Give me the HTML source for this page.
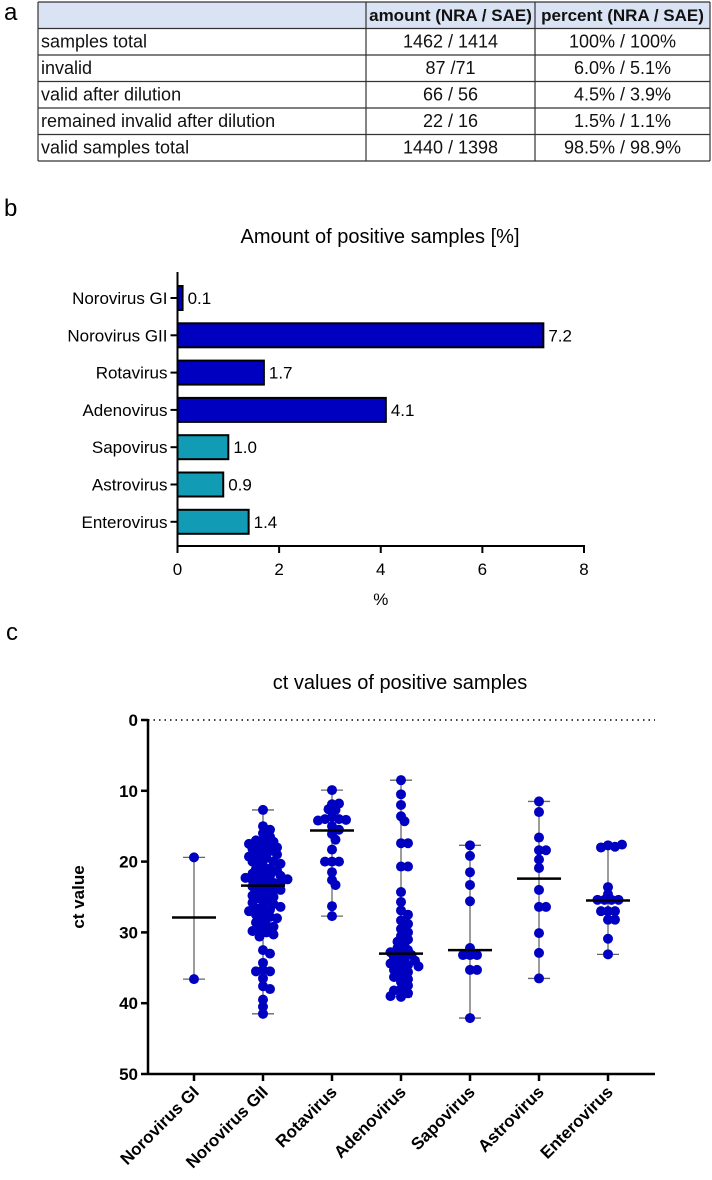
<!DOCTYPE html>
<html><head><meta charset="utf-8"><style>
body{margin:0;width:712px;height:1180px;background:#fff;overflow:hidden;font-family:"Liberation Sans",sans-serif}
svg{position:absolute;left:0;top:0}
</style></head><body>
<svg id="s" width="712" height="1180" xmlns="http://www.w3.org/2000/svg">
<text x="4" y="20" font-size="24">a</text>
<g id="tbl"></g>
<text x="4" y="216" font-size="24">b</text>
<g id="bar"></g>
<text x="6" y="640" font-size="24">c</text>
<g id="ct"></g>
</svg>
<script>
const NS='http://www.w3.org/2000/svg';
function mk(p,t,a,txt){const e=document.createElementNS(NS,t);for(const k in a)e.setAttribute(k,a[k]);if(txt!=null)e.textContent=txt;p.appendChild(e);return e;}

// ---------- TABLE ----------
const tableHeader=['','amount (NRA / SAE)','percent (NRA / SAE)'];
const tableRows=[['samples total','1462 / 1414','100% / 100%'],['invalid','87 /71','6.0% / 5.1%'],['valid after dilution','66 / 56','4.5% / 3.9%'],['remained invalid after dilution','22 / 16','1.5% / 1.1%'],['valid samples total','1440 / 1398','98.5% / 98.9%']];
(function(){
const g=document.getElementById('tbl');
const cx=[38,366,535,710],top=2,rh=26.5;
const hb=mk(g,'rect',{x:38,y:top,width:672,height:rh,fill:'#dae3f3'});

const all=[tableHeader].concat(tableRows);
all.forEach((r,i)=>{
 const y=top+i*rh;
 r.forEach((c,j)=>{
  const t=mk(g,'text',{x:j==0?cx[0]+3:(cx[j]+cx[j+1])/2,y:y+19,'font-size':i==0?17:18,'text-anchor':j==0?'start':'middle','font-weight':i==0?'bold':'normal',fill:'#111'},c);
  
 });
});
for(let i=0;i<=all.length;i++){const l=mk(g,'line',{x1:38,x2:710,y1:top+i*rh,y2:top+i*rh,stroke:'#333','stroke-width':1.2});}
cx.forEach(x=>{const l=mk(g,'line',{x1:x,x2:x,y1:top,y2:top+all.length*rh,stroke:'#333','stroke-width':1.2});});
})();

// ---------- BAR CHART ----------
const barCats=['Norovirus GI','Norovirus GII','Rotavirus','Adenovirus','Sapovirus','Astrovirus','Enterovirus'];
const barVals=[0.1,7.2,1.7,4.1,1.0,0.9,1.4];
const barLabels=['0.1','7.2','1.7','4.1','1.0','0.9','1.4'];
const barGroup=['dark','dark','dark','dark','teal','teal','teal'];
const barTicks=[0,2,4,6,8];
(function(){
const g=document.getElementById('bar');
const x0=177.5,x1=584,ytop=272,ybot=546;
const X=v=>x0+(v-0)/(8-0)*(x1-x0);
const Y=i=>298+i*37.3;
const t=mk(g,'text',{x:380,y:243,'font-size':20,'text-anchor':'middle'},'Amount of positive samples [%]');

barCats.forEach((c,i)=>{
 const r=mk(g,'rect',{x:X(0),y:Y(i)-12,width:X(barVals[i])-X(0),height:24,fill:barGroup[i]=='dark'?'#0000c0':'#119bb4',stroke:'#000','stroke-width':2});
 
 const v=mk(g,'text',{x:X(barVals[i])+5,y:Y(i)+6,'font-size':17},barLabels[i]);
 
 const l=mk(g,'text',{x:x0-10,y:Y(i)+6,'font-size':17,'text-anchor':'end'},c);
 
 const tk=mk(g,'line',{x1:x0-7,x2:x0,y1:Y(i),y2:Y(i),stroke:'#000','stroke-width':2});
 
});
const ya=mk(g,'line',{x1:x0,x2:x0,y1:ytop,y2:ybot+1,stroke:'#000','stroke-width':2});

const xa=mk(g,'line',{x1:x0-1,x2:x1+1,y1:ybot,y2:ybot,stroke:'#000','stroke-width':2});

barTicks.forEach(v=>{
 const tk=mk(g,'line',{x1:X(v),x2:X(v),y1:ybot,y2:ybot+7,stroke:'#000','stroke-width':2});
 
 const tl=mk(g,'text',{x:X(v),y:575,'font-size':17,'text-anchor':'middle'},String(v));
 
});
const xt=mk(g,'text',{x:X(4),y:605,'font-size':17,'text-anchor':'middle'},'%');

})();

// ---------- CT SCATTER ----------
const ctCats=['Norovirus GI','Norovirus GII','Rotavirus','Adenovirus','Sapovirus','Astrovirus','Enterovirus'];
const ctNoroGI=[19.4,36.6];
const ctNoroGII=[12.7,15.0,15.5,16.0,16.5,17.0,17.0,17.2,17.5,17.8,18.0,18.0,18.2,18.5,18.7,19.0,19.0,19.3,19.5,19.8,20.0,20.0,20.3,20.6,21.0,21.0,21.3,21.5,21.7,22.0,22.0,22.2,22.3,22.5,22.6,22.8,23.0,23.0,23.2,23.5,23.7,24.0,24.0,24.3,24.6,24.8,25.0,25.2,25.5,25.8,26.0,26.2,26.4,26.6,26.8,27.0,27.2,27.5,27.8,28.0,28.3,28.6,29.0,29.2,29.5,29.8,30.0,30.3,30.6,32.5,33.0,34.3,35.3,35.5,35.5,36.5,37.6,38.0,39.5,40.5,41.5];
const ctRota=[9.9,11.9,11.8,12.7,12.6,13.7,14.0,14.0,14.1,14.2,15.0,15.5,16.1,16.9,18.3,20.0,20.0,20.0,21.5,22.6,23.3,26.3,27.7];
const ctAdeno=[8.5,10.5,12.0,13.6,14.3,17.4,17.4,20.7,20.7,24.3,25.7,26.9,27.5,28.3,28.8,29.5,30.0,30.5,31.0,31.3,31.8,32.2,32.5,32.8,33.0,33.2,33.5,33.8,34.0,34.2,34.4,34.6,34.8,35.0,35.3,35.6,36.0,36.3,36.6,37.0,37.5,38.0,38.2,38.6,39.1,39.0];
const ctSapo=[17.7,19.2,21.5,23.3,25.6,32.2,33.2,33.2,33.2,35.3,35.3,42.1];
const ctAstro=[11.5,13.0,16.6,18.4,18.4,19.7,20.9,24.0,26.4,26.4,30.1,32.9,36.5];
const ctEntero=[17.7,17.9,18.0,17.6,23.6,24.6,25.4,25.4,25.4,25.4,27.0,27.0,27.0,28.2,28.2,30.9,33.1];
const ctMedians=[27.9,23.4,15.6,33.0,32.5,22.4,25.5];
const ctTicks=[0,10,20,30,40,50];
(function(){
const g=document.getElementById('ct');
const groups=[ctNoroGI,ctNoroGII,ctRota,ctAdeno,ctSapo,ctAstro,ctEntero];
const ax=148,xEnd=655,y0=720,y50=1074;
const Y=v=>y0+(v-0)/(50-0)*(y50-y0);
const X=i=>194+i*69;
const t=mk(g,'text',{x:400,y:689,'font-size':20,'text-anchor':'middle'},'ct values of positive samples');

const dl=mk(g,'line',{x1:ax,x2:xEnd,y1:Y(0),y2:Y(0),stroke:'#000','stroke-width':1.5,'stroke-dasharray':'1.5,4'});

const ya=mk(g,'line',{x1:ax,x2:ax,y1:Y(0)-1,y2:Y(50)+1,stroke:'#000','stroke-width':2.5});

const xa=mk(g,'line',{x1:ax,x2:xEnd,y1:Y(50),y2:Y(50),stroke:'#000','stroke-width':2.5});

ctTicks.forEach(v=>{
 const tk=mk(g,'line',{x1:ax-7,x2:ax,y1:Y(v),y2:Y(v),stroke:'#000','stroke-width':2.5});
 
 const tl=mk(g,'text',{x:ax-10,y:Y(v)+6,'font-size':17,'font-weight':'bold','text-anchor':'end'},String(v));
 
});
const yt=mk(g,'text',{x:0,y:0,'font-size':17,'font-weight':'bold','text-anchor':'middle',transform:'translate(84,897) rotate(-90)'},'ct value');

groups.forEach((vals,i)=>{
 const cx=X(i);
 const tk=mk(g,'line',{x1:cx,x2:cx,y1:Y(50),y2:Y(50)+7,stroke:'#000','stroke-width':2.5});
 
 const tl=mk(g,'text',{x:0,y:0,'font-size':17,'font-weight':'bold','text-anchor':'end',transform:`translate(${cx+6},${Y(50)+19}) rotate(-45)`},ctCats[i]);
 
 const mn=Math.min(...vals),mxv=Math.max(...vals);
 const w=mk(g,'line',{x1:cx,x2:cx,y1:Y(mn),y2:Y(mxv),stroke:'#666','stroke-width':1.3});
 
 [mn,mxv].forEach(v=>{const c=mk(g,'line',{x1:cx-11,x2:cx+11,y1:Y(v),y2:Y(v),stroke:'#666','stroke-width':1.3});
  });
 const placed=[];
 vals.forEach(v=>{
  const py=Y(v);let px=cx;
  for(let k=0;k<40;k++){
   const off=(k%2?1:-1)*Math.ceil(k/2)*3.5;
   const tx=cx+off;
   if(placed.every(p=>Math.hypot(p[0]-tx,p[1]-py)>=6)){px=tx;break;}
  }
  placed.push([px,py]);
  const d=mk(g,'circle',{cx:px,cy:py,r:5,fill:'#0000c0'});
  
 });
 const m=mk(g,'line',{x1:cx-22,x2:cx+22,y1:Y(ctMedians[i]),y2:Y(ctMedians[i]),stroke:'#000','stroke-width':2.5});
 
});
})();
</script>
</body></html>
